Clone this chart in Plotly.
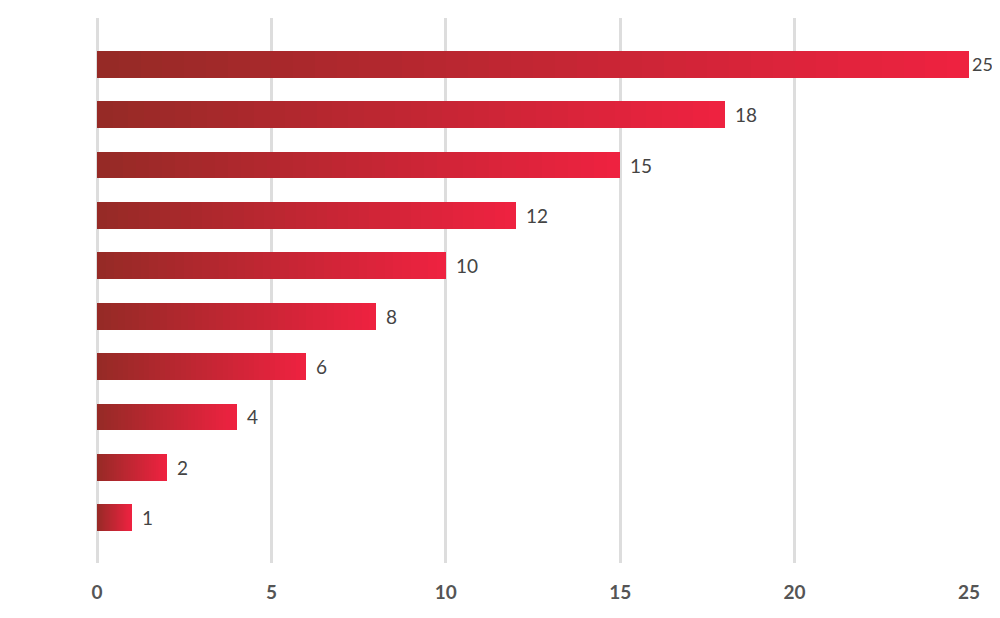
import plotly.graph_objects as go

values = [25, 18, 15, 12, 10, 8, 6, 4, 2, 1]
positions = list(range(len(values)))
tick_vals = [0, 5, 10, 15, 20, 25]
tick_text = ["0", "5", "10", "15", "20", "25"]

c_start = (150, 42, 38)
c_end = (238, 34, 64)
N = 40

fig = go.Figure()
for k in range(N):
    t = k / (N - 1)
    col = "rgb(%d,%d,%d)" % tuple(round(a + (b - a) * t) for a, b in zip(c_start, c_end))
    fig.add_trace(go.Bar(
        x=[v / N for v in values], y=positions, orientation="h",
        marker=dict(color=col, line=dict(width=0)),
        width=0.53, hoverinfo="skip", showlegend=False,
    ))

for v, p in zip(values, positions):
    fig.add_annotation(
        x=v, y=p, text=str(v), showarrow=False, xanchor="left", yanchor="middle",
        xshift=1 if v == 25 else 8,
        font=dict(family="Lato", size=19 if v != 25 else 18, color="#444444"),
    )

fig.update_layout(
    width=992, height=610, barmode="stack", bargap=0,
    margin=dict(l=89, r=31, t=10, b=55),
    paper_bgcolor="rgba(0,0,0,0)", plot_bgcolor="rgba(0,0,0,0)",
    xaxis=dict(range=[0, 25], tickvals=tick_vals, ticktext=tick_text,
               showgrid=True, gridcolor="#dddddd", gridwidth=2.5,
               zeroline=True, zerolinecolor="#dddddd", zerolinewidth=2.5,
               ticks="outside", ticklen=12, tickcolor="rgba(0,0,0,0)",
               tickfont=dict(family="Lato", size=19, color="#555555", weight="bold"),
               showline=False, fixedrange=True),
    yaxis=dict(range=[9.9, -0.92], showticklabels=False, showgrid=False,
               zeroline=False, showline=False),
)
fig.write_html("out.html")
